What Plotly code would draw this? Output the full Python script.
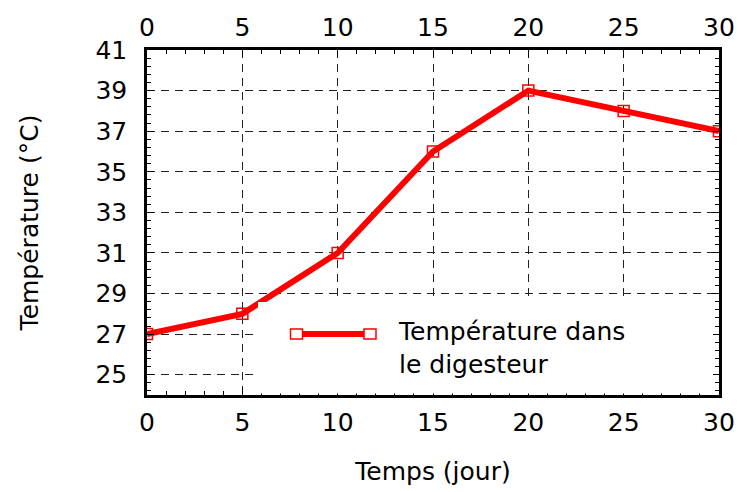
import plotly.graph_objects as go

# Data
jours = [0, 5, 10, 15, 20, 25, 30]
temperature = [27, 28, 31, 36, 39, 38, 37]
x_ticks = [0, 5, 10, 15, 20, 25, 30]
y_ticks = [25, 27, 29, 31, 33, 35, 37, 39, 41]
serie_nom = "Température dans<br>le digesteur"

FONT = "DejaVu Sans"
FS = 25
RED = "#ff0000"

fig = go.Figure()
fig.add_trace(go.Scatter(
    x=jours, y=temperature, mode="lines+markers",
    line=dict(color=RED, width=6),
    marker=dict(symbol="square-open", size=11, color=RED, line=dict(width=1.5, color=RED)),
    showlegend=False, cliponaxis=True,
))

axis_common = dict(
    showline=True, linecolor="black", linewidth=2.5,
    mirror="ticks", ticks="inside", ticklen=7, tickwidth=1, tickcolor="black",
    showgrid=True, gridcolor="#222222", gridwidth=1, griddash="8px,6px",
    zeroline=False,
    tickfont=dict(family=FONT, size=FS, color="black"),
)

fig.update_xaxes(
    range=[0, 30], tickvals=x_ticks, ticktext=[str(v) for v in x_ticks],
    minor=dict(dtick=1, tick0=0, ticks="inside", ticklen=4, tickwidth=1.2, tickcolor="black", showgrid=False),
    title=dict(text="Temps (jour)", font=dict(family=FONT, size=FS, color="black"), standoff=27),
    ticklabelstandoff=3,
    **axis_common,
)
fig.update_yaxes(
    range=[24, 41], tickvals=y_ticks, ticktext=[str(v) for v in y_ticks],
    minor=dict(dtick=0.4, tick0=25, ticks="inside", ticklen=4, tickwidth=1.2, tickcolor="black", showgrid=False),
    title=dict(text="Température (°C)", font=dict(family=FONT, size=FS, color="black"), standoff=50),
    ticklabelstandoff=12,
    **axis_common,
)

fig.update_layout(
    xaxis2=dict(
        overlaying="x", side="top", anchor="y", range=[0, 30],
        tickvals=x_ticks, ticktext=[str(v) for v in x_ticks],
        showline=False, ticks="", showgrid=False, zeroline=False,
        tickfont=dict(family=FONT, size=FS, color="black"),
        ticklabelstandoff=8,
    ),
)
# invisible trace anchoring the top axis
fig.add_trace(go.Scatter(x=[0, 30], y=[24, 24], xaxis="x2", yaxis="y", mode="none",
                         showlegend=False, hoverinfo="skip"))

# Legend box (drawn manually to match the two-marker sample)
W, H = 572, 345
def px_x(p):
    return (p - 147) / W
def px_y(p):
    return (395 - p) / H

shapes = [
    dict(type="rect", xref="paper", yref="paper",
         x0=px_x(258), x1=px_x(713), y0=px_y(393.5), y1=px_y(302),
         fillcolor="white", line=dict(width=0), layer="above"),
    dict(type="line", xref="paper", yref="paper",
         x0=px_x(296.5), x1=px_x(370), y0=px_y(334), y1=px_y(334),
         line=dict(color=RED, width=6), layer="above"),
]
for cx in (296.5, 370):
    shapes.append(dict(type="rect", xref="paper", yref="paper",
                       x0=px_x(cx - 6), x1=px_x(cx + 6), y0=px_y(334 + 5), y1=px_y(334 - 5),
                       line=dict(color=RED, width=1.5), fillcolor="white", layer="above"))

fig.update_layout(
    shapes=shapes,
    annotations=[dict(
        xref="paper", yref="paper", x=px_x(396), y=px_y(348),
        xanchor="left", yanchor="middle", align="left", showarrow=False,
        text=serie_nom, font=dict(family=FONT, size=FS, color="black"),
    )],
    width=741, height=492,
    margin=dict(l=147, r=22, t=50, b=97, autoexpand=False),
    paper_bgcolor="white", plot_bgcolor="white",
    font=dict(family=FONT, size=FS, color="black"),
)

fig.write_html("out.html", config={"displayModeBar": False},
               post_script="document.body.style.margin='0px';")
